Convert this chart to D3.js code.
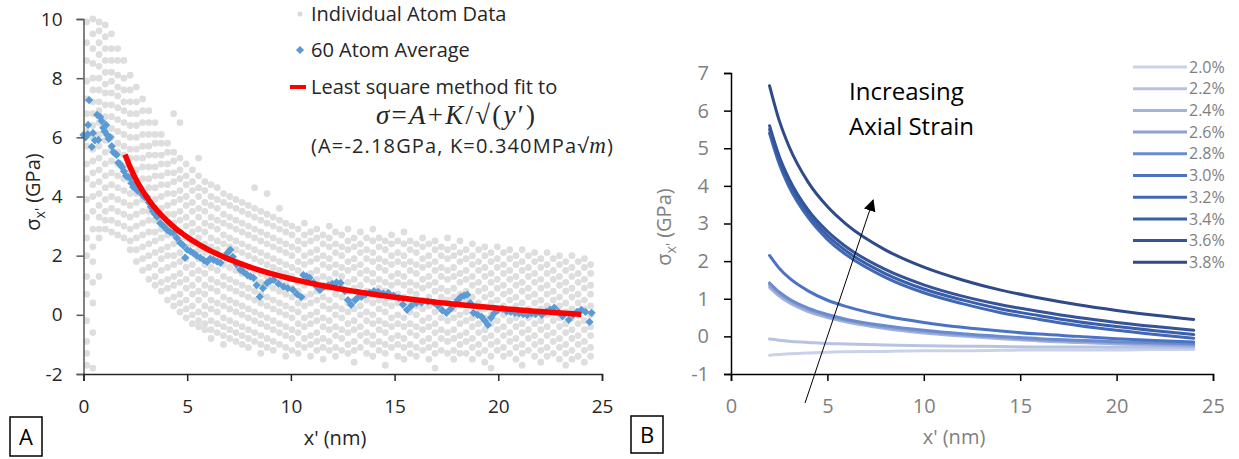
<!DOCTYPE html>
<html><head><meta charset="utf-8">
<script src="https://cdn.jsdelivr.net/npm/d3@7"></script>
<style>
body{margin:0;background:#fff;}
svg{display:block;font-family:"Open Sans",sans-serif;}
</style></head><body>
<svg id="chart" width="1239" height="459"></svg>
<script>
// ---------- Panel A: stress along x' ----------
// individual atom stresses, grouped by x' column: [x', [sigma values...]]
const atomColumns = [
[0.15,[9.9,9.2,8.6,7.9,7.3,6.8,6.2,5.7,5.1,4.6,3.9,3.3,2.6,2.0,1.3,0.7,-0.2,-0.9,-1.3,-1.7]],
[0.45,[10.0,9.5,9.0,8.5,8.0,7.6,7.2,6.8,6.4,6.0,5.6,5.2,4.8,4.4,4.0,3.5,2.9,2.3,1.8,1.1,0.4,-0.6,-1.8]],
[0.75,[9.9,9.6,9.2,8.8,8.4,8.0,7.6,7.2,6.9,6.5,6.1,5.7,5.3,4.9,4.5,4.1,3.7,3.3,2.9,2.6,1.3]],
[1.05,[9.8,9.4,9.0,8.6,8.2,7.8,7.5,7.1,6.7,6.3,5.9,5.5,5.1,4.7,4.3,3.9,3.5,3.2,2.9]],
[1.35,[9.5,9.0,8.6,8.2,7.9,7.5,7.1,6.7,6.3,6.0,5.6,5.2,4.8,4.4,4.0,3.6,3.2,2.8]],
[1.65,[9.0,8.6,8.1,7.7,7.4,7.0,6.6,6.2,5.8,5.5,5.1,4.7,4.3,3.9,3.5,3.1,2.7]],
[1.95,[8.6,8.0,7.6,7.2,6.9,6.5,6.1,5.7,5.4,5.0,4.6,4.2,3.8,3.4,3.0,2.6]],
[2.25,[8.1,7.6,7.2,6.8,6.4,6.0,5.6,5.3,4.9,4.5,4.1,3.7,3.3,2.9,2.5,2.2]],
[2.55,[7.7,7.2,6.8,6.4,6.0,5.6,5.3,4.9,4.5,4.1,3.8,3.4,3.0,2.6,2.2,1.8]],
[2.85,[7.3,6.9,6.5,6.1,5.7,5.3,5.0,4.6,4.2,3.9,3.5,3.1,2.7,2.3,1.9,1.5]],
[3.15,[6.9,6.5,6.1,5.7,5.4,5.0,4.6,4.3,3.9,3.5,3.2,2.8,2.4,2.0,1.6,1.2]],
[3.45,[6.5,6.1,5.8,5.4,5.0,4.7,4.3,3.9,3.6,3.2,2.8,2.5,2.1,1.7,1.3,1.0]],
[3.75,[6.1,5.8,5.4,5.1,4.7,4.4,4.0,3.6,3.3,2.9,2.6,2.2,1.9,1.5,1.1,0.8]],
[4.05,[5.8,5.5,5.1,4.8,4.4,4.1,3.7,3.4,3.0,2.7,2.3,2.0,1.6,1.2,0.9,0.5]],
[4.35,[6.8,5.5,5.2,4.8,4.5,4.1,3.8,3.4,3.1,2.7,2.4,2.0,1.7,1.3,1.0,0.6,0.3]],
[4.65,[6.5,5.3,4.9,4.6,4.2,3.9,3.5,3.2,2.8,2.5,2.1,1.8,1.4,1.1,0.7,0.4,0.1]],
[4.95,[5.1,4.7,4.4,4.0,3.7,3.3,3.0,2.6,2.3,1.9,1.6,1.2,0.9,0.5,0.2,-0.1]],
[5.25,[4.9,4.5,4.2,3.8,3.5,3.1,2.8,2.4,2.1,1.7,1.4,1.0,0.7,0.3,0.0,-0.3]],
[5.55,[5.3,4.7,4.3,4.0,3.6,3.3,2.9,2.6,2.2,1.9,1.5,1.2,0.8,0.5,0.1,-0.2,-0.4]],
[5.85,[4.5,4.2,3.8,3.5,3.1,2.8,2.4,2.1,1.7,1.4,1.0,0.7,0.3,0.0,-0.3,-0.5]],
[6.15,[4.4,4.0,3.7,3.3,3.0,2.6,2.3,1.9,1.6,1.2,0.9,0.5,0.2,-0.2,-0.5,-0.8]],
[6.45,[4.3,3.9,3.6,3.2,2.9,2.5,2.2,1.8,1.5,1.1,0.8,0.4,0.1,-0.3,-0.6]],
[6.75,[4.1,3.8,3.4,3.1,2.7,2.4,2.0,1.7,1.3,1.0,0.6,0.3,-0.1,-0.4,-0.7,-1.0]],
[7.05,[4.0,3.7,3.3,3.0,2.6,2.3,1.9,1.6,1.2,0.9,0.5,0.2,-0.2,-0.5,-0.8]],
[7.35,[3.9,3.6,3.2,2.9,2.5,2.2,1.8,1.5,1.1,0.8,0.4,0.1,-0.3,-0.6,-0.9]],
[7.65,[3.8,3.5,3.1,2.8,2.4,2.1,1.7,1.4,1.0,0.7,0.3,0.0,-0.4,-0.7,-1.0]],
[7.95,[3.7,3.4,3.0,2.7,2.3,2.0,1.6,1.3,0.9,0.6,0.2,-0.1,-0.5,-0.8,-1.1]],
[8.25,[4.3,3.6,3.3,2.9,2.6,2.2,1.9,1.5,1.2,0.8,0.5,0.1,-0.2,-0.6,-0.9]],
[8.55,[3.5,3.2,2.8,2.5,2.1,1.8,1.4,1.1,0.7,0.4,0.0,-0.3,-0.7,-1.0,-1.3]],
[8.85,[4.1,3.4,3.1,2.7,2.4,2.0,1.7,1.3,1.0,0.6,0.3,-0.1,-0.4,-0.8,-1.1]],
[9.15,[3.3,3.0,2.6,2.3,1.9,1.6,1.2,0.9,0.5,0.2,-0.2,-0.5,-0.9,-1.2]],
[9.45,[3.6,3.2,2.9,2.5,2.2,1.8,1.5,1.1,0.8,0.4,0.1,-0.3,-0.6,-1.0]],
[9.75,[3.1,2.8,2.4,2.1,1.7,1.4,1.0,0.7,0.3,0.0,-0.4,-0.7,-1.1,-1.4]],
[10.05,[3.0,2.7,2.3,2.0,1.6,1.3,0.9,0.6,0.2,-0.1,-0.5,-0.8,-1.2]],
[10.35,[2.9,2.5,2.2,1.8,1.5,1.1,0.8,0.4,0.1,-0.3,-0.6,-1.0,-1.3]],
[10.65,[3.1,2.7,2.4,2.0,1.7,1.3,1.0,0.6,0.3,-0.1,-0.4,-0.8,-1.1]],
[10.95,[2.8,2.5,2.1,1.8,1.4,1.1,0.7,0.4,0.0,-0.3,-0.7,-1.0,-1.4]],
[11.25,[2.9,2.6,2.2,1.9,1.5,1.2,0.8,0.5,0.1,-0.2,-0.6,-0.9,-1.2]],
[11.55,[2.7,2.4,2.0,1.7,1.3,1.0,0.6,0.3,-0.1,-0.4,-0.8,-1.1,-1.5]],
[11.85,[3.0,2.6,2.3,1.9,1.6,1.2,0.9,0.5,0.2,-0.2,-0.5,-0.9,-1.2]],
[12.15,[2.8,2.4,2.1,1.7,1.4,1.0,0.7,0.3,0.0,-0.4,-0.7,-1.1,-1.4]],
[12.45,[2.7,2.3,2.0,1.6,1.3,0.9,0.6,0.2,-0.1,-0.5,-0.8,-1.2]],
[12.75,[2.9,2.5,2.2,1.8,1.5,1.1,0.8,0.4,0.1,-0.3,-0.6,-1.0,-1.3]],
[13.05,[2.6,2.3,1.9,1.6,1.2,0.9,0.5,0.2,-0.2,-0.5,-0.9,-1.2,-1.6]],
[13.35,[2.8,2.4,2.1,1.7,1.4,1.0,0.7,0.3,0.0,-0.4,-0.7,-1.1]],
[13.65,[2.6,2.2,1.9,1.5,1.2,0.8,0.5,0.1,-0.2,-0.6,-0.9,-1.3]],
[13.95,[2.9,2.5,2.1,1.8,1.4,1.1,0.7,0.4,0.0,-0.3,-0.7,-1.0,-1.4]],
[14.25,[2.6,2.3,1.9,1.6,1.2,0.9,0.5,0.2,-0.2,-0.5,-0.9,-1.2]],
[14.55,[2.5,2.2,1.8,1.5,1.1,0.8,0.4,0.1,-0.3,-0.6,-1.0,-1.3,-1.7]],
[14.85,[2.7,2.4,2.0,1.7,1.3,1.0,0.6,0.3,-0.1,-0.4,-0.8,-1.1]],
[15.15,[2.5,2.1,1.8,1.4,1.1,0.7,0.4,0.0,-0.3,-0.7,-1.0,-1.4]],
[15.45,[2.8,2.4,2.0,1.7,1.3,1.0,0.6,0.3,-0.1,-0.4,-0.8,-1.1,-1.5]],
[15.75,[2.5,2.2,1.8,1.5,1.1,0.8,0.4,0.1,-0.3,-0.6,-1.0,-1.3]],
[16.05,[2.4,2.1,1.7,1.4,1.0,0.7,0.3,0.0,-0.4,-0.7,-1.1,-1.4]],
[16.35,[2.6,2.3,1.9,1.6,1.2,0.9,0.5,0.2,-0.2,-0.5,-0.9,-1.2]],
[16.65,[2.4,2.0,1.7,1.3,1.0,0.6,0.3,-0.1,-0.4,-0.8,-1.1,-1.5]],
[16.95,[2.5,2.2,1.8,1.5,1.1,0.8,0.4,0.1,-0.3,-0.6,-1.0,-1.3,-1.8]],
[17.25,[2.3,2.0,1.6,1.3,0.9,0.6,0.2,-0.1,-0.5,-0.8,-1.2]],
[17.55,[2.6,2.2,1.9,1.5,1.2,0.8,0.5,0.1,-0.2,-0.6,-0.9,-1.3]],
[17.85,[2.3,2.0,1.6,1.3,0.9,0.6,0.2,-0.1,-0.5,-0.8,-1.2,-1.5]],
[18.15,[2.5,2.1,1.8,1.4,1.1,0.7,0.4,0.0,-0.3,-0.7,-1.0,-1.3]],
[18.45,[2.2,1.9,1.5,1.2,0.8,0.5,0.1,-0.2,-0.6,-0.9,-1.3]],
[18.75,[2.4,2.0,1.7,1.3,1.0,0.6,0.3,-0.1,-0.4,-0.8,-1.1,-1.5]],
[19.05,[2.2,1.8,1.5,1.1,0.8,0.4,0.1,-0.3,-0.6,-1.0,-1.3]],
[19.35,[2.3,2.0,1.6,1.3,0.9,0.6,0.2,-0.1,-0.5,-0.8,-1.2,-1.6]],
[19.65,[2.1,1.8,1.4,1.1,0.7,0.4,0.0,-0.3,-0.7,-1.0,-1.4,-1.8]],
[19.95,[2.3,1.9,1.6,1.2,0.9,0.5,0.2,-0.2,-0.5,-0.9,-1.2]],
[20.25,[2.1,1.7,1.4,1.0,0.7,0.3,0.0,-0.4,-0.7,-1.1,-1.4]],
[20.55,[2.2,1.9,1.5,1.2,0.8,0.5,0.1,-0.2,-0.6,-0.9,-1.3]],
[20.85,[2.0,1.7,1.3,1.0,0.6,0.3,-0.1,-0.4,-0.8,-1.1,-1.5]],
[21.15,[2.2,1.8,1.5,1.1,0.8,0.4,0.1,-0.3,-0.6,-1.0,-1.3,-1.7]],
[21.45,[2.0,1.6,1.3,0.9,0.6,0.2,-0.1,-0.5,-0.8,-1.2]],
[21.75,[2.1,1.8,1.4,1.1,0.7,0.4,0.0,-0.3,-0.7,-1.0,-1.4]],
[22.05,[1.9,1.6,1.2,0.9,0.5,0.2,-0.2,-0.5,-0.9,-1.2,-1.6]],
[22.35,[2.1,1.7,1.4,1.0,0.7,0.3,0.0,-0.4,-0.7,-1.1,-1.4]],
[22.65,[1.9,1.5,1.2,0.8,0.5,0.1,-0.2,-0.6,-0.9,-1.3]],
[22.95,[2.0,1.7,1.3,1.0,0.6,0.3,-0.1,-0.4,-0.8,-1.1,-1.5]],
[23.25,[1.8,1.5,1.1,0.8,0.4,0.1,-0.3,-0.6,-1.0,-1.3,-1.7]],
[23.55,[2.0,1.6,1.3,0.9,0.6,0.2,-0.1,-0.5,-0.8,-1.2,-1.5]],
[23.85,[1.8,1.4,1.1,0.7,0.4,0.0,-0.3,-0.7,-1.0,-1.4]],
[24.15,[1.9,1.6,1.2,0.9,0.5,0.2,-0.2,-0.5,-0.9,-1.2,-1.6]],
[24.45,[1.7,1.4,1.0,0.7,0.3,0.0,-0.4,-0.7,-1.1,-1.4]]
];

// running 60-atom averages: [x', sigma]
const averagePoints = [
[0.0,6.08],[0.1,6.0],[0.2,6.1],[0.22,6.42],[0.27,7.26],[0.4,5.68],[0.46,6.15],[0.55,5.9],[0.66,6.76],[0.72,5.91],
[0.8,6.69],[0.88,6.55],[0.95,6.32],[1.02,6.2],[1.09,6.42],[1.14,6.08],[1.22,5.95],[1.28,6.01],[1.36,5.7],[1.44,5.5],
[1.52,5.45],[1.6,5.41],[1.68,5.14],[1.76,5.1],[1.85,5.0],[1.95,4.85],[2.05,4.7],[2.15,4.66],[2.25,4.63],[2.32,4.45],
[2.4,4.32],[2.5,4.3],[2.6,4.2],[2.73,4.16],[2.85,4.05],[2.95,3.98],[3.06,3.99],[3.15,3.8],[3.25,3.65],[3.35,3.5],
[3.45,3.4],[3.55,3.31],[3.7,3.1],[3.85,3.0],[4.03,2.87],[4.18,2.8],[4.33,2.77],[4.5,2.6],[4.66,2.43],[4.8,2.35],
[4.9,1.93],[5.0,2.2],[5.15,2.15],[5.3,2.09],[5.45,2.0],[5.63,1.93],[5.8,1.85],[5.96,1.79],[6.1,1.9],[6.27,1.86],
[6.45,1.8],[6.6,1.76],[6.8,1.95],[6.95,2.1],[7.08,2.2],[7.2,1.96],[7.38,1.7],[7.56,1.52],[7.72,1.45],[7.9,1.35],
[8.05,1.3],[8.2,1.25],[8.35,1.0],[8.5,0.61],[8.65,0.9],[8.85,1.08],[9.0,1.15],[9.17,1.18],[9.4,1.05],[9.65,0.95],
[9.85,0.9],[10.1,0.84],[10.3,0.7],[10.5,0.6],[10.6,1.35],[10.75,1.3],[10.9,1.25],[11.1,1.08],[11.25,0.95],[11.4,0.84],
[11.6,0.95],[11.8,1.0],[12.0,1.05],[12.2,1.1],[12.4,1.08],[12.6,0.8],[12.75,0.5],[12.9,0.34],[13.1,0.5],[13.25,0.6],
[13.4,0.61],[13.6,0.7],[13.8,0.75],[14.0,0.8],[14.2,0.78],[14.45,0.72],[14.7,0.74],[14.95,0.65],[15.2,0.57],[15.4,0.35],
[15.6,0.17],[15.8,0.3],[16.05,0.4],[16.3,0.41],[16.6,0.45],[16.9,0.41],[17.1,0.3],[17.3,0.15],[17.5,0.07],[17.7,0.2],
[17.9,0.35],[18.05,0.5],[18.2,0.61],[18.35,0.65],[18.5,0.68],[18.65,0.4],[18.8,0.07],[19.0,0.0],[19.2,-0.07],[19.35,-0.2],
[19.5,-0.34],[19.65,-0.1],[19.8,0.05],[20.0,0.17],[20.2,0.2],[20.4,0.12],[20.6,0.1],[20.8,0.07],[21.0,0.05],[21.2,0.02],
[21.4,0.0],[21.6,0.05],[21.8,0.03],[22.1,0.0],[22.3,0.1],[22.5,0.18],[22.7,0.24],[22.9,0.1],[23.1,-0.05],[23.4,-0.17],
[23.6,0.0],[23.8,0.1],[24.0,0.17],[24.2,0.1],[24.4,-0.24],[24.5,0.07]
];

// least-squares fit sigma = A + K / sqrt(y')
const fitA = -2.18;          // GPa
const fitK = 0.340;          // MPa*sqrt(m)
const fitRange = [2, 24];    // nm
const panelAXTicks = [0, 5, 10, 15, 20, 25];
const panelAYTicks = [-2, 0, 2, 4, 6, 8, 10];

// ---------- Panel B: fitted stress for each axial strain ----------
const strainLabels = ["2.0%","2.2%","2.4%","2.6%","2.8%","3.0%","3.2%","3.4%","3.6%","3.8%"];
const strainColors = ["#c9d2e9","#b6c3e3","#a2b3dc","#8ca2d6","#6b8bce","#4a73c3","#4168b6","#3a5ea8","#34549a","#2e4a88"];
const curveX = [2, 2.5, 3, 4, 5, 6, 8, 10, 12, 14, 16, 18, 20, 22, 24];
const stress20 = [-0.50,-0.48,-0.46,-0.44,-0.42,-0.41,-0.40,-0.38,-0.38,-0.37,-0.36,-0.36,-0.36,-0.35,-0.35];
const stress22 = [-0.07,-0.10,-0.13,-0.16,-0.19,-0.20,-0.23,-0.25,-0.26,-0.27,-0.28,-0.28,-0.29,-0.29,-0.30];
const stress24 = [1.30,1.07,0.90,0.66,0.50,0.38,0.21,0.09,0.01,-0.06,-0.12,-0.16,-0.20,-0.23,-0.26];
const stress26 = [1.37,1.13,0.96,0.71,0.54,0.42,0.24,0.13,0.04,-0.03,-0.09,-0.13,-0.17,-0.20,-0.23];
const stress28 = [1.42,1.18,1.00,0.75,0.58,0.45,0.28,0.16,0.07,0.00,-0.06,-0.10,-0.14,-0.17,-0.20];
const stress30 = [2.15,1.81,1.56,1.21,0.96,0.79,0.54,0.37,0.24,0.14,0.06,0.00,-0.06,-0.11,-0.15];
const stress32 = [5.40,4.59,3.99,3.16,2.58,2.16,1.57,1.16,0.87,0.63,0.45,0.29,0.16,0.05,-0.05];
const stress34 = [5.50,4.69,4.09,3.26,2.68,2.26,1.67,1.26,0.97,0.73,0.55,0.39,0.26,0.15,0.05];
const stress36 = [5.60,4.79,4.20,3.36,2.79,2.37,1.78,1.37,1.07,0.84,0.66,0.50,0.37,0.26,0.16];
const stress38 = [6.66,5.74,5.06,4.10,3.45,2.97,2.30,1.84,1.50,1.23,1.02,0.84,0.69,0.56,0.45];
const strainSeries = [stress20,stress22,stress24,stress26,stress28,stress30,stress32,stress34,stress36,stress38];
const panelBXTicks = [0, 5, 10, 15, 20, 25];
const panelBYTicks = [-1, 0, 1, 2, 3, 4, 5, 6, 7];
// annotation arrow, in data units of panel B
const arrowFrom = [3.84, -1.77];
const arrowTo = [7.37, 3.62];

const svg = d3.select("#chart");
svg.append("rect").attr("width", 1239).attr("height", 459).attr("fill", "#fff");

// ===== Panel A =====
const xA = d3.scaleLinear().domain([0, 25]).range([83.5, 602]);
const yA = d3.scaleLinear().domain([-2, 10]).range([374, 19]);
const gA = svg.append("g");

const atomFlat = atomColumns.flatMap(([x, ys]) => ys.map(y => [x, y]));
gA.append("g").selectAll("circle").data(atomFlat).join("circle")
  .attr("cx", d => xA(d[0])).attr("cy", d => yA(d[1]))
  .attr("r", 3.4).attr("fill", "#dedede");

const diamond = d3.symbol().type(d3.symbolSquare).size(34);
gA.append("g").selectAll("path").data(averagePoints).join("path")
  .attr("d", diamond)
  .attr("transform", d => `translate(${xA(d[0])},${yA(d[1])}) rotate(45)`)
  .attr("fill", "#5b9bd5");

// K converted from MPa*sqrt(m) to GPa*sqrt(nm)
const fitKGPaNm = fitK * 1e-3 * Math.sqrt(1e9);
const fitXs = d3.range(fitRange[0], fitRange[1] + 0.001, 0.2);
gA.append("path")
  .datum(fitXs.map(x => [x, fitA + fitKGPaNm / Math.sqrt(x)]))
  .attr("fill", "none").attr("stroke", "#ff0000").attr("stroke-width", 5.5)
  .attr("d", d3.line().x(d => xA(d[0])).y(d => yA(d[1])));

const axA_y = gA.append("g").attr("transform", `translate(${xA(0)},0)`)
  .call(d3.axisLeft(yA).tickValues(panelAYTicks).tickSize(7).tickPadding(14).tickFormat(d => String(d)));
axA_y.select(".domain").attr("stroke", "#595959").attr("stroke-width", 1.5);
axA_y.selectAll(".tick line").attr("stroke", "#595959").attr("stroke-width", 1.5);
axA_y.selectAll("text").attr("font-size", 19).attr("font-family", "Open Sans").attr("fill", "#262626");

const axA_x = gA.append("g").attr("transform", `translate(0,${yA(-2)})`)
  .call(d3.axisBottom(xA).tickValues(panelAXTicks).tickSize(7).tickPadding(19).tickFormat(d => String(d)));
axA_x.select(".domain").attr("stroke", "#262626").attr("stroke-width", 1.5);
axA_x.selectAll(".tick line").attr("stroke", "#262626").attr("stroke-width", 1.5);
axA_x.selectAll("text").attr("font-size", 19).attr("font-family", "Open Sans").attr("fill", "#262626");

gA.append("text").attr("x", 335).attr("y", 445).attr("text-anchor", "middle")
  .attr("font-size", 20).attr("fill", "#262626").text("x' (nm)");

function sigmaTitle(g, cx, cy, color) {
  const t = g.append("text").attr("transform", `translate(${cx},${cy}) rotate(-90)`)
    .attr("text-anchor", "middle").attr("font-size", 20).attr("fill", color);
  t.append("tspan").text("σ");
  t.append("tspan").attr("dy", 5).attr("font-size", 14).text("x'");
  t.append("tspan").attr("dy", -5).text(" (GPa)");
}
sigmaTitle(gA, 40, 192, "#262626");

// legend of panel A
const legA = gA.append("g").attr("font-size", 20).attr("fill", "#262626");
legA.append("circle").attr("cx", 300).attr("cy", 14).attr("r", 2.5).attr("fill", "#d9d9d9");
legA.append("text").attr("x", 311).attr("y", 21).text("Individual Atom Data");
legA.append("path").attr("d", diamond).attr("transform", "translate(300,50) rotate(45)").attr("fill", "#5b9bd5");
legA.append("text").attr("x", 311).attr("y", 57).text("60 Atom Average");
legA.append("line").attr("x1", 290).attr("x2", 306).attr("y1", 87).attr("y2", 87)
  .attr("stroke", "#ff0000").attr("stroke-width", 4);
legA.append("text").attr("x", 311).attr("y", 94).text("Least square method fit to");
const formula = legA.append("text").attr("x", 376).attr("y", 124)
  .attr("textLength", 159).attr("lengthAdjust", "spacing")
  .attr("font-family", "Liberation Serif, serif").attr("font-size", 27);
[["σ",1],["=",0],["A",1],["+",0],["K",1],["/",0],["√",0],["(",0],["y",1],["′",0],[")",0]]
  .forEach(([s, it]) => formula.append("tspan").attr("font-style", it ? "italic" : "normal").text(s));
const params = legA.append("text").attr("x", 311).attr("y", 153)
  .attr("textLength", 302).attr("lengthAdjust", "spacing");
params.append("tspan").text("(A=-2.18GPa, K=0.340MPa√");
params.append("tspan").attr("font-family", "Liberation Serif, serif").attr("font-style", "italic").attr("font-size", 23).text("m");
params.append("tspan").text(")");

// panel tag A
gA.append("rect").attr("x", 10).attr("y", 417).attr("width", 32).attr("height", 39)
  .attr("fill", "none").attr("stroke", "#000").attr("stroke-width", 1.5);
gA.append("text").attr("x", 26).attr("y", 445).attr("text-anchor", "middle").attr("font-size", 22).attr("fill", "#000").text("A");

// ===== Panel B =====
const xB = d3.scaleLinear().domain([0, 25]).range([731, 1213]);
const yB = d3.scaleLinear().domain([-1, 7]).range([374, 73]);
const gB = svg.append("g");

const lineB = d3.line().x(d => xB(d[0])).y(d => yB(d[1])).curve(d3.curveMonotoneX);
gB.append("g").selectAll("path").data(strainSeries).join("path")
  .attr("fill", "none").attr("stroke-width", 3).attr("stroke-linecap", "round")
  .attr("stroke", (d, i) => strainColors[i])
  .attr("d", s => lineB(curveX.map((x, j) => [x, s[j]])));

const axB_y = gB.append("g").attr("transform", `translate(${xB(0)},0)`)
  .call(d3.axisLeft(yB).tickValues(panelBYTicks).tickSize(7).tickPadding(15).tickFormat(d => String(d)));
axB_y.select(".domain").attr("stroke", "#000").attr("stroke-width", 1.5);
axB_y.selectAll(".tick line").attr("stroke", "#000").attr("stroke-width", 1.5);
axB_y.selectAll("text").attr("font-size", 20).attr("font-family", "Open Sans").attr("fill", "#7f7f7f");

const axB_x = gB.append("g").attr("transform", `translate(0,${yB(-1)})`)
  .call(d3.axisBottom(xB).tickValues(panelBXTicks).tickSize(7).tickPadding(18).tickFormat(d => String(d)));
axB_x.select(".domain").attr("stroke", "#000").attr("stroke-width", 1.5);
axB_x.selectAll(".tick line").attr("stroke", "#000").attr("stroke-width", 1.5);
axB_x.selectAll("text").attr("font-size", 20).attr("font-family", "Open Sans").attr("fill", "#7f7f7f");

gB.append("text").attr("x", 954).attr("y", 444).attr("text-anchor", "middle")
  .attr("font-size", 20).attr("fill", "#7f7f7f").text("x' (nm)");
sigmaTitle(gB, 671, 227, "#7f7f7f");

// arrow annotation
const defs = svg.append("defs");
defs.append("marker").attr("id", "arrowHead").attr("viewBox", "0 0 10 10")
  .attr("refX", 9).attr("refY", 5).attr("markerWidth", 12).attr("markerHeight", 12)
  .attr("markerUnits", "userSpaceOnUse").attr("orient", "auto")
  .append("path").attr("d", "M0,0 L10,5 L0,10 Z").attr("fill", "#000");
gB.append("line")
  .attr("x1", xB(arrowFrom[0])).attr("y1", yB(arrowFrom[1]))
  .attr("x2", xB(arrowTo[0])).attr("y2", yB(arrowTo[1]))
  .attr("stroke", "#000").attr("stroke-width", 1).attr("marker-end", "url(#arrowHead)");

gB.append("text").attr("x", 849).attr("y", 100).attr("font-size", 24).attr("fill", "#000").text("Increasing");
gB.append("text").attr("x", 849).attr("y", 135).attr("font-size", 24).attr("fill", "#000").text("Axial Strain");

// legend of panel B
const legB = gB.append("g").selectAll("g").data(strainLabels).join("g")
  .attr("transform", (d, i) => `translate(0,${67 + i * 21.7})`);
legB.append("line").attr("x1", 1133).attr("x2", 1187)
  .attr("stroke", (d, i) => strainColors[i]).attr("stroke-width", 3);
legB.append("text").attr("x", 1189).attr("dy", "0.35em").attr("font-size", 16).attr("fill", "#7f7f7f").text(d => d);

// panel tag B
gB.append("rect").attr("x", 631).attr("y", 416).attr("width", 32).attr("height", 37)
  .attr("fill", "none").attr("stroke", "#000").attr("stroke-width", 1.5);
gB.append("text").attr("x", 647).attr("y", 443).attr("text-anchor", "middle").attr("font-size", 22).attr("fill", "#000").text("B");
</script>
</body></html>
